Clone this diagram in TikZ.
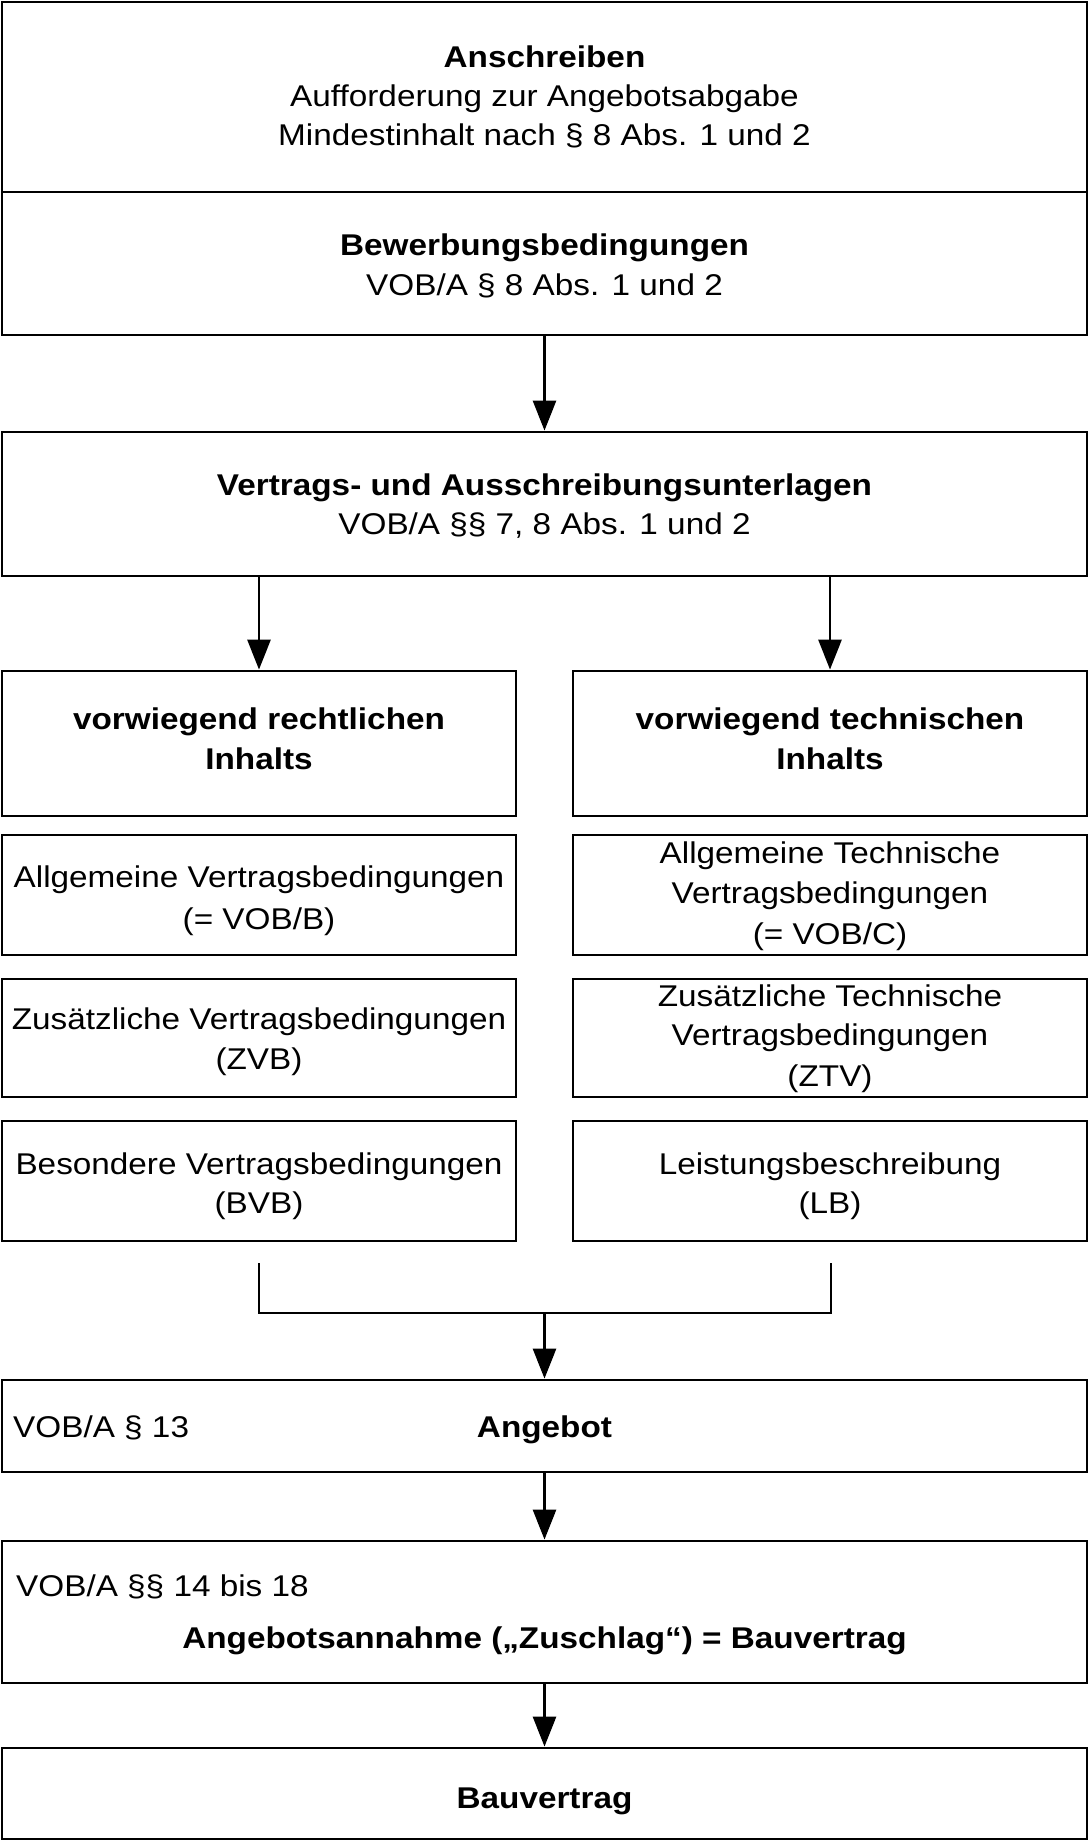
\documentclass[tikz,border=0pt]{standalone}
\usepackage{fontspec}
\setmainfont{Liberation Sans}[FakeStretch=1.11]
\usetikzlibrary{arrows.meta}
\begin{document}
\begin{tikzpicture}[x=1pt,y=-1pt,
  box/.style={draw=black, line width=2.8pt, rectangle, inner sep=0pt},
  txt/.style={anchor=base, inner sep=0pt, font=\fontsize{30pt}{40pt}\selectfont},
  btxt/.style={anchor=base, inner sep=0pt, font=\fontsize{30pt}{40pt}\selectfont\bfseries},
  arr/.style={draw=black, line width=2.8pt, -{Triangle[length=30pt,width=23pt]}},
  conn/.style={draw=black, line width=2.8pt}]
\useasboundingbox (0,0) rectangle (1089,1841);

% boxes
\node[box, minimum width=1085pt, minimum height=190pt] (A) at (544.5,97) {};
\node[box, minimum width=1085pt, minimum height=143pt] (B) at (544.5,263.5) {};
\node[box, minimum width=1085pt, minimum height=144pt] (C) at (544.5,504) {};
\node[box, minimum width=514pt, minimum height=145pt] (L0) at (259,743.5) {};
\node[box, minimum width=514pt, minimum height=145pt] (R0) at (830,743.5) {};
\node[box, minimum width=514pt, minimum height=120pt] (L1) at (259,895) {};
\node[box, minimum width=514pt, minimum height=120pt] (R1) at (830,895) {};
\node[box, minimum width=514pt, minimum height=118pt] (L2) at (259,1038) {};
\node[box, minimum width=514pt, minimum height=118pt] (R2) at (830,1038) {};
\node[box, minimum width=514pt, minimum height=120pt] (L3) at (259,1181) {};
\node[box, minimum width=514pt, minimum height=120pt] (R3) at (830,1181) {};
\node[box, minimum width=1085pt, minimum height=92pt] (Ang) at (544.5,1426) {};
\node[box, minimum width=1085pt, minimum height=142pt] (Ann) at (544.5,1612) {};
\node[box, minimum width=1085pt, minimum height=91pt] (Bau) at (544.5,1793.5) {};

% texts
\node[btxt] (tA1) at (544.5,68) {Anschreiben};
\node[txt] (tA2) at (544.5,107) {Aufforderung zur Angebotsabgabe};
\node[txt] (tA3) at (544.5,146) {Mindestinhalt nach § 8 Abs. 1 und 2};
\node[btxt] (tB1) at (544.5,255) {Bewerbungsbedingungen};
\node[txt] (tB2) at (544.5,295) {VOB/A § 8 Abs. 1 und 2};
\node[btxt] (tC1) at (544.5,495) {Vertrags- und Ausschreibungsunterlagen};
\node[txt] (tC2) at (544.5,534) {VOB/A §§ 7, 8 Abs. 1 und 2};

\node[btxt] (tL01) at (259,729) {vorwiegend rechtlichen};
\node[btxt] (tL02) at (259,769) {Inhalts};
\node[btxt] (tR01) at (830,729) {vorwiegend technischen};
\node[btxt] (tR02) at (830,769) {Inhalts};

\node[txt] (tL11) at (259,887) {Allgemeine Vertragsbedingungen};
\node[txt] (tL12) at (259,929) {(= VOB/B)};
\node[txt] (tR11) at (830,863) {Allgemeine Technische};
\node[txt] (tR12) at (830,903) {Vertragsbedingungen};
\node[txt] (tR13) at (830,944) {(= VOB/C)};

\node[txt] (tL21) at (259,1029) {Zusätzliche Vertragsbedingungen};
\node[txt] (tL22) at (259,1069) {(ZVB)};
\node[txt] (tR21) at (830,1006) {Zusätzliche Technische};
\node[txt] (tR22) at (830,1045) {Vertragsbedingungen};
\node[txt] (tR23) at (830,1086) {(ZTV)};

\node[txt] (tL31) at (259,1174) {Besondere Vertragsbedingungen};
\node[txt] (tL32) at (259,1213) {(BVB)};
\node[txt] (tR31) at (830,1174) {Leistungsbeschreibung};
\node[txt] (tR32) at (830,1213) {(LB)};

\node[txt, anchor=base west] (tAng1) at (13,1437) {VOB/A § 13};
\node[btxt] (tAng2) at (544.5,1437) {Angebot};
\node[txt, anchor=base west] (tAnn1) at (16,1596) {VOB/A §§ 14 bis 18};
\node[btxt] (tAnn2) at (544.5,1648) {Angebotsannahme („Zuschlag“) = Bauvertrag};
\node[btxt] (tBau) at (544.5,1808) {Bauvertrag};

% connectors
\draw[arr] (B.south) -- (C.north);
\draw[arr] (L0.north |- C.south) -- (L0.north);
\draw[arr] (R0.north |- C.south) -- (R0.north);
\coordinate (bl) at (259,1263);
\coordinate (br) at (831,1263);
\coordinate (j) at (544.5,1313);
\draw[conn] (bl) |- (j) -- (j -| br) -- (br);
\draw[arr] (j) -- (Ang.north);
\draw[arr] (Ang.south) -- (Ann.north);
\draw[arr] (Ann.south) -- (Bau.north);
\end{tikzpicture}
\end{document}
